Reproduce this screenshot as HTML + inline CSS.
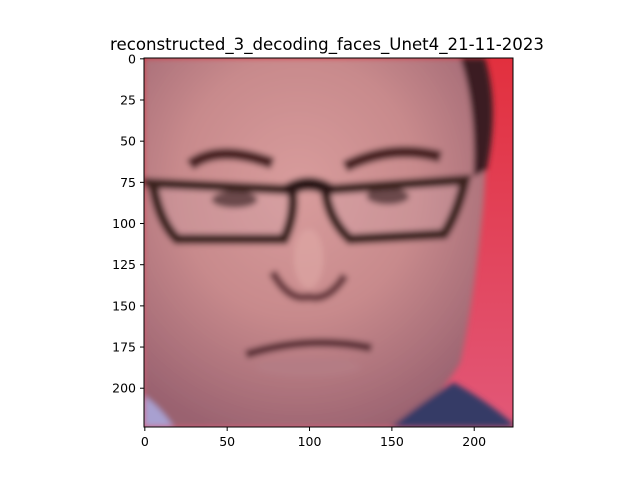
<!DOCTYPE html>
<html><head><meta charset="utf-8"><style>
body{margin:0;background:#fff;}
svg{display:block;font-family:"DejaVu Sans","Liberation Sans",sans-serif;}
</style></head><body>
<svg width="640" height="480" viewBox="0 0 640 480">
<defs>
<radialGradient id="skin" cx="0.45" cy="0.35" r="0.7">
<stop offset="0" stop-color="#d89c9c"/><stop offset="0.5" stop-color="#c88a8c"/><stop offset="1" stop-color="#9a6270"/>
</radialGradient>
<linearGradient id="red" x1="0" y1="0" x2="0" y2="1"><stop offset="0" stop-color="#e2303e"/><stop offset="1" stop-color="#e25878"/></linearGradient>
<clipPath id="clip"><rect x="0" y="0" width="224" height="224"/></clipPath>
<filter id="blur"><feGaussianBlur stdDeviation="1.8"/></filter>
</defs>
<text x="327" y="50" text-anchor="middle" font-size="16.6">reconstructed_3_decoding_faces_Unet4_21-11-2023</text>
<g transform="translate(144,58) scale(1.647)" clip-path="url(#clip)">
<rect width="224" height="224" fill="url(#red)"/>
<g filter="url(#blur)">
<path d="M0,0 L205,0 Q210,40 206,90 Q200,150 192,185 Q180,205 160,224 L0,224 Z" fill="url(#skin)"/>
<path d="M192,0 L207,0 Q216,30 208,68 L200,72 Q202,30 192,0 Z" fill="#3a1c20"/>
<path d="M0,205 Q10,212 18,224 L0,224 Z" fill="#a8a0d0"/>
<path d="M150,224 Q170,208 188,197 Q208,208 224,222 L224,224 Z" fill="#363a66"/>
<path d="M28,65 Q45,52 78,64" stroke="#4a2424" stroke-width="7" fill="none"/>
<path d="M122,66 Q150,52 180,60" stroke="#4a2424" stroke-width="7" fill="none"/>
<ellipse cx="55" cy="86" rx="14" ry="5" fill="#4a2a2a"/>
<ellipse cx="148" cy="84" rx="13" ry="5" fill="#4a2a2a"/>
<path d="M4,76 L90,80 Q92,95 85,110 L20,110 Q10,100 6,80 Z" stroke="#3a201e" stroke-width="6" fill="rgba(210,170,180,0.25)"/>
<path d="M110,80 L195,74 Q190,95 182,107 L125,110 Q112,98 110,80 Z" stroke="#3a201e" stroke-width="6" fill="rgba(210,170,180,0.25)"/>
<path d="M86,81 Q100,72 114,81" stroke="#2a1612" stroke-width="8" fill="none"/>
<path d="M0,75 L6,76" stroke="#3a201e" stroke-width="5"/>
<path d="M78,130 Q88,148 100,145 Q112,148 122,132" stroke="#6a3a40" stroke-width="5" fill="none"/>
<ellipse cx="100" cy="122" rx="9" ry="18" fill="#e0aaa6" opacity="0.6"/>
<path d="M62,180 Q100,168 138,176" stroke="#5a2e36" stroke-width="5" fill="none"/>
<ellipse cx="100" cy="188" rx="32" ry="6" fill="#b47c84" opacity="0.8"/>
</g>
</g>
<rect x="144" y="58" width="369" height="369" fill="none" stroke="#000" stroke-width="1"/>
<g id="xt"></g>
<g id="yt"></g>
<script>
const xTicks=[0,50,100,150,200];
const yTicks=[0,25,50,75,100,125,150,175,200];
const x0=144,y0=58,s=1.647;
const ns="http://www.w3.org/2000/svg";
const xg=document.getElementById('xt'),yg=document.getElementById('yt');
xTicks.forEach(v=>{const x=x0+(v+0.5)*s;
const l=document.createElementNS(ns,'line');l.setAttribute('x1',x);l.setAttribute('x2',x);l.setAttribute('y1',427);l.setAttribute('y2',431);l.setAttribute('stroke','#000');


xg.appendChild(l);
const t=document.createElementNS(ns,'text');t.setAttribute('x',x);t.setAttribute('y',446);t.setAttribute('text-anchor','middle');t.setAttribute('font-size','12.5');t.textContent=v;


xg.appendChild(t);});
yTicks.forEach(v=>{const y=y0+(v+0.5)*s;
const l=document.createElementNS(ns,'line');l.setAttribute('x1',140);l.setAttribute('x2',144);l.setAttribute('y1',y);l.setAttribute('y2',y);l.setAttribute('stroke','#000');


yg.appendChild(l);
const t=document.createElementNS(ns,'text');t.setAttribute('x',136);t.setAttribute('y',y+4.5);t.setAttribute('text-anchor','end');t.setAttribute('font-size','12.5');t.textContent=v;


yg.appendChild(t);});
</script>
</svg>
</body></html>
